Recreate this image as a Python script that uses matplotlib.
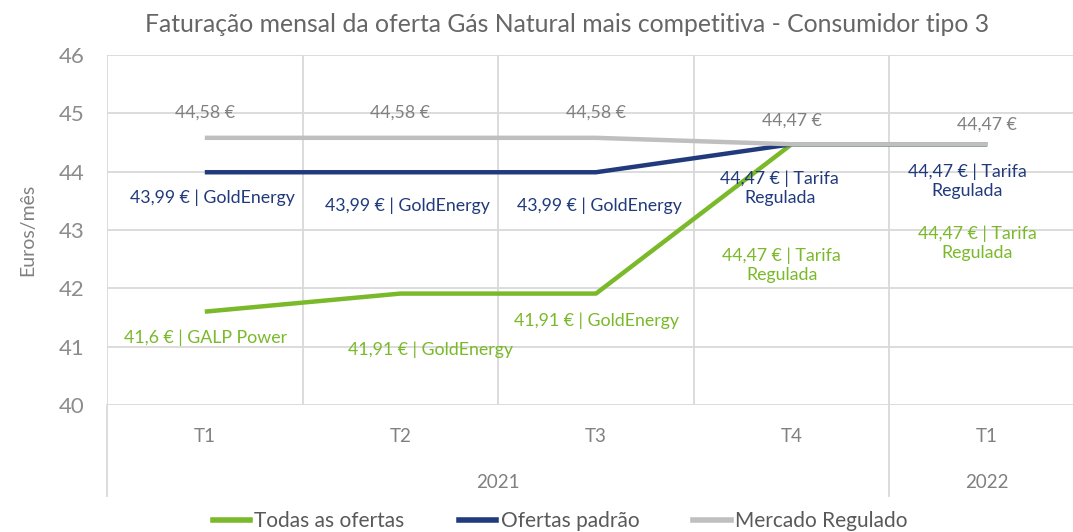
import matplotlib
matplotlib.use("Agg")
import matplotlib.pyplot as plt
from matplotlib.lines import Line2D

plt.rcParams['font.family'] = ['Lato', 'DejaVu Sans']

# data
quarters = ["T1", "T2", "T3", "T4", "T1"]
years = ["2021", "2022"]
year_spans = [(0, 3), (4, 4)]

todas = [41.6, 41.91, 41.91, 44.47, 44.47]
padrao = [43.99, 43.99, 43.99, 44.47, 44.47]
regulado = [44.58, 44.58, 44.58, 44.47, 44.47]

todas_lbl = ["41,6 € | GALP Power", "41,91 € | GoldEnergy", "41,91 € | GoldEnergy",
             "44,47 € | Tarifa\nRegulada", "44,47 € | Tarifa\nRegulada"]
padrao_lbl = ["43,99 € | GoldEnergy", "43,99 € | GoldEnergy", "43,99 € | GoldEnergy",
              "44,47 € | Tarifa\nRegulada", "44,47 € | Tarifa\nRegulada"]
regulado_lbl = ["44,58 €", "44,58 €", "44,58 €", "44,47 €", "44,47 €"]

GREEN = "#7ab929"
BLUE = "#203a7c"
GRAY = "#bfbfbf"
TXT = "#808080"
GRID = "#d9d9d9"

# label offsets in pixels (dx, dy), dy positive = up
todas_off = [(1, -26), (30, -56), (0, -27), (-10, -121), (-10, -99)]
padrao_off = [(8, -26), (7, -34), (3, -34), (-12, -44), (-20, -37)]
regulado_off = [(0, 25), (0, 25), (0, 25), (0, 24), (0, 20)]

fig = plt.figure(figsize=(10.73, 5.32), dpi=100)
W, H = 1073, 532
left, right, top, bottom = 107, 1085, 55, 405
ax = fig.add_axes([left / W, 1 - bottom / H, (right - left) / W, (bottom - top) / H])

x = list(range(len(quarters)))
ax.plot(x, todas, color=GREEN, lw=3.2, solid_capstyle='butt', zorder=3)
ax.plot(x, padrao, color=BLUE, lw=3.2, solid_capstyle='butt', zorder=4)
ax.plot(x, regulado, color=GRAY, lw=3.2, solid_capstyle='butt', zorder=5)

ax.set_xlim(-0.5, len(quarters) - 0.5)
ax.set_ylim(40, 46)
ax.set_yticks(range(40, 47))
ax.set_xticks([i + 0.5 for i in range(len(quarters))], minor=False)
ax.set_xticklabels([])
ax.grid(True, color=GRID, lw=1.3)
ax.set_axisbelow(True)
for s in ax.spines.values():
    s.set_visible(False)
ax.axvline(-0.5, color=GRID, lw=1.3)
ax.tick_params(axis='both', length=0)
ax.tick_params(axis='y', labelsize=16, labelcolor="#8c8c8c", pad=16)

# category labels
for i, q in enumerate(quarters):
    ax.text(i, -0.09, q, transform=ax.get_xaxis_transform(), ha='center', va='center',
            fontsize=13.5, color=TXT)
for yr, (a, b) in zip(years, year_spans):
    ax.text((a + b) / 2, -0.22, yr, transform=ax.get_xaxis_transform(), ha='center',
            va='center', fontsize=13.5, color=TXT)
for xs in [-0.5, 3.5]:
    ax.plot([xs, xs], [0, -0.26], transform=ax.get_xaxis_transform(), color=GRID,
            lw=1.3, clip_on=False)

ax.set_ylabel("Euros/mês", fontsize=14, color=TXT, labelpad=16)

def put(vals, labels, offs, color):
    for i, (v, t, (dx, dy)) in enumerate(zip(vals, labels, offs)):
        ax.annotate(t, (i, v), xytext=(dx * 0.72, dy * 0.72), textcoords='offset points',
                    ha='center', va='center', fontsize=12.8, color=color,
                    linespacing=1.25, zorder=6)

put(regulado, regulado_lbl, regulado_off, TXT)
put(padrao, padrao_lbl, padrao_off, BLUE)
put(todas, todas_lbl, todas_off, GREEN)

fig.text(567 / W, 1 - 25 / H, "Faturação mensal da oferta Gás Natural mais competitiva - Consumidor tipo 3",
         ha='center', va='center', fontsize=17.8, color="#666666")

handles = [Line2D([], [], color=GREEN, lw=4),
           Line2D([], [], color=BLUE, lw=4),
           Line2D([], [], color=GRAY, lw=4)]
fig.legend(handles, ["Todas as ofertas", "Ofertas padrão", "Mercado Regulado"],
           loc='center', bbox_to_anchor=(0.522, 1 - 521 / H), ncol=3, frameon=False,
           fontsize=15, labelcolor="#595959", handlelength=1.8, handletextpad=0.2,
           columnspacing=2.6)

fig.savefig("out.png", dpi=100)
